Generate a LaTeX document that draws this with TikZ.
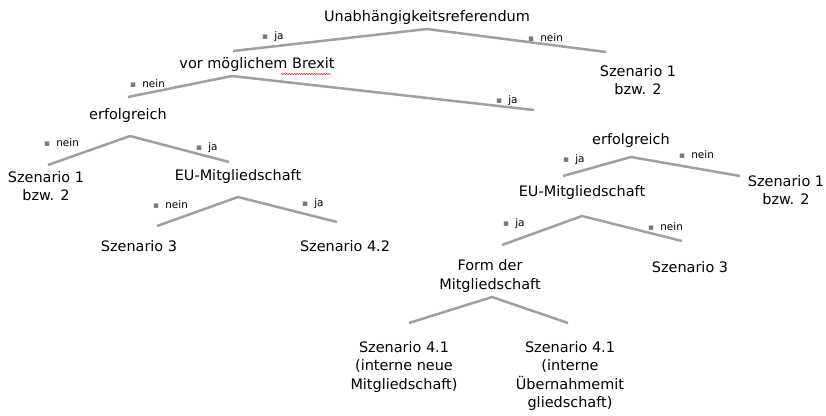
\documentclass[tikz,border=0pt]{standalone}
\usepackage{fontspec}
\setmainfont{DejaVu Sans}
\usetikzlibrary{decorations.pathmorphing}
\definecolor{branchgray}{RGB}{160,160,160}
\definecolor{bulletgray}{RGB}{120,120,120}
\begin{document}
\begin{tikzpicture}[
    x=1bp, y=-1bp,
    item/.style={align=center, inner sep=0pt, font=\fontsize{14.5}{18.5}\selectfont},
    tag/.style={anchor=west, inner sep=0pt, font=\fontsize{10.5}{11}\selectfont},
    branch/.style={draw=branchgray, line width=2.5bp}
]
\useasboundingbox (0,0) rectangle (826,415);
\newcommand{\sq}{{\color{bulletgray}\fontsize{9}{9}\selectfont ▪}\hspace{6bp}}

% Decision nodes
\node[item] (ref) at (427,18) {Unabhängigkeitsreferendum};
\node[item] (vor) at (257,65) {vor möglichem Brexit};
\node[item] (s12a) at (638,80) {Szenario 1\\bzw. 2};
\node[item] (erfl) at (128,116) {erfolgreich};
\node[item] (s12b) at (46,186) {Szenario 1\\bzw. 2};
\node[item] (eul) at (238,177) {EU-Mitgliedschaft};
\node[item] (s3a) at (139,246) {Szenario 3};
\node[item] (s42) at (345,246) {Szenario 4.2};
\node[item] (erfr) at (631,141) {erfolgreich};
\node[item] (s12c) at (786,190) {Szenario 1\\bzw. 2};
\node[item] (eur) at (582,193) {EU-Mitgliedschaft};
\node[item] (form) at (490,276) {Form der\\Mitgliedschaft};
\node[item] (s3b) at (690,267) {Szenario 3};
\node[item] (s41a) at (404,367) {Szenario 4.1\\(interne neue\\Mitgliedschaft)};
\node[item] (s41b) at (570,376) {Szenario 4.1\\(interne\\Übernahmemit\\gliedschaft)};

% Branch points
\coordinate (ref-t) at (427,29);
\coordinate (ref-l) at (233,51);
\coordinate (ref-r) at (606,52);
\coordinate (vor-t) at (232,76);
\coordinate (vor-l) at (128,97);
\coordinate (vor-r) at (534,110);
\coordinate (erfl-t) at (130,136);
\coordinate (erfl-l) at (48,165);
\coordinate (erfl-r) at (229,162);
\coordinate (eul-t) at (238,197);
\coordinate (eul-l) at (157,226);
\coordinate (eul-r) at (337,222);
\coordinate (erfr-t) at (631,157);
\coordinate (erfr-l) at (563,176);
\coordinate (erfr-r) at (740,176);
\coordinate (eur-t) at (582,216);
\coordinate (eur-l) at (502,245);
\coordinate (eur-r) at (682,241);
\coordinate (form-t) at (492,297);
\coordinate (form-l) at (409,323);
\coordinate (form-r) at (568,323);

% Branches
\draw[branch] (ref-l) -- (ref-t) -- (ref-r);
\draw[branch] (vor-l) -- (vor-t) -- (vor-r);
\draw[branch] (erfl-l) -- (erfl-t) -- (erfl-r);
\draw[branch] (eul-l) -- (eul-t) -- (eul-r);
\draw[branch] (erfr-l) -- (erfr-t) -- (erfr-r);
\draw[branch] (eur-l) -- (eur-t) -- (eur-r);
\draw[branch] (form-l) -- (form-t) -- (form-r);

% Branch labels
\node[tag] (t1) at (262,37) {\sq ja};
\node[tag] (t2) at (528,38) {\sq nein};
\node[tag] (t3) at (130,84) {\sq nein};
\node[tag] (t4) at (496,101) {\sq ja};
\node[tag] (t5) at (44,143) {\sq nein};
\node[tag] (t6) at (196,148) {\sq ja};
\node[tag] (t7) at (153,205) {\sq nein};
\node[tag] (t8) at (302,204) {\sq ja};
\node[tag] (t9) at (563,160) {\sq ja};
\node[tag] (t10) at (679,155) {\sq nein};
\node[tag] (t11) at (503,224) {\sq ja};
\node[tag] (t12) at (648,227) {\sq nein};

% spell-check mark under Brexit
\draw[red, line width=0.5pt, decorate, decoration={snake, amplitude=0.6bp, segment length=2.5bp}] (281,74) -- (331,74);
\end{tikzpicture}
\end{document}
